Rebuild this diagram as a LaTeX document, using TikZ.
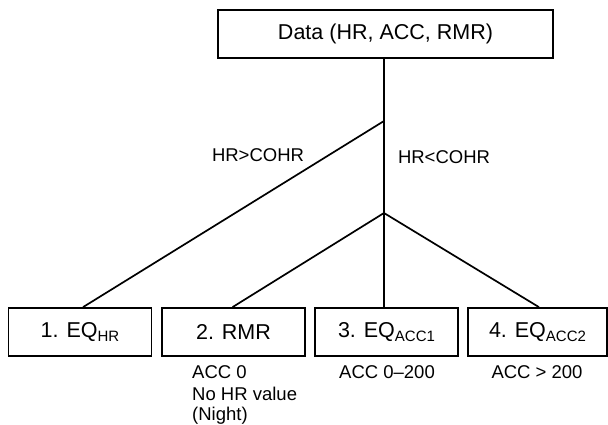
\documentclass[tikz,border=0pt]{standalone}
\usepackage{fontspec}
\setmainfont{Liberation Sans}
\newcommand{\subtx}[1]{\raisebox{-4.5pt}{\fontsize{15}{15}\selectfont #1}}
\begin{document}
\begin{tikzpicture}[x=1pt,y=-1pt,
  boxnode/.style={draw, line width=1.7pt, minimum height=48pt, inner sep=0pt,
    font=\fontsize{21.5}{25}\selectfont},
  labnode/.style={inner sep=0pt, font=\fontsize{18.5}{22}\selectfont},
  link/.style={line width=1.7pt}]
\useasboundingbox (0,0) rectangle (608,425);
\node[boxnode, minimum width=335pt] (top) at (385.5,34) {Data (HR, ACC, RMR)};
\coordinate (j1) at (384,121);
\coordinate (j2) at (384,213);
\node[boxnode, minimum width=143pt] (b1) at (80,332) {1. EQ\subtx{HR}};
\node[boxnode, minimum width=143pt] (b2) at (233.5,332) {2. RMR};
\node[boxnode, minimum width=143pt] (b3) at (386.5,332) {3. EQ\subtx{ACC1}};
\node[boxnode, minimum width=139pt] (b4) at (537.5,332) {4. EQ\subtx{ACC2}};
\draw[link] (top.south -| j1) -- (j1) -- (j2) -- (j2 |- b3.north);
\draw[link] (j1) -- ([xshift=3pt]b1.north);
\draw[link] (j2) -- ([xshift=-1pt]b2.north);
\draw[link] (j2) -- ([xshift=1.5pt]b4.north);
\node[labnode] (l1) at (258,155) {HR>COHR};
\node[labnode] (l2) at (444,157) {HR<COHR};
\node[labnode, anchor=west] (l3) at (192,372) {ACC 0};
\node[labnode, anchor=west] (l4) at (192,394) {No HR value};
\node[labnode, anchor=west] (l5) at (192,416) {(Night)};
\node[labnode] (l6) at (387,372) {ACC 0–200};
\node[labnode] (l7) at (537,372) {ACC > 200};
\end{tikzpicture}
\end{document}
